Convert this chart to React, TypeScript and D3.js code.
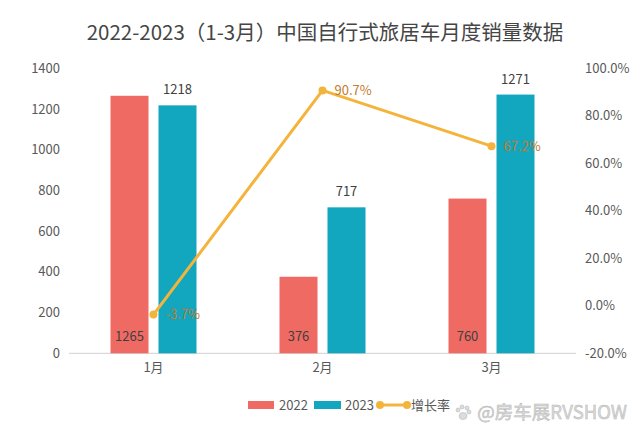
import React from "react";
import * as d3 from "d3";

const months = ["1月", "2月", "3月"];
const sales2022 = [1265, 376, 760];
const sales2023 = [1218, 717, 1271];
const growth = [-3.7, 90.7, 67.2];
const leftTicks = [0, 200, 400, 600, 800, 1000, 1200, 1400];
const rightTicks = [-20, 0, 20, 40, 60, 80, 100];

const W = 640, H = 440;
const M = { left: 69, right: 576, top: 68.3, bottom: 353.3 };
const RED = "#EF6A62";
const TEAL = "#12A6BF";
const LINE = "#F4B43C";
const FONT = "'Noto Sans CJK SC', 'Noto Sans', sans-serif";

export default function App() {
  const x = d3.scaleBand<string>().domain(months).range([M.left, M.right]).paddingInner(0).paddingOuter(0);
  const y = d3.scaleLinear().domain([0, 1400]).range([M.bottom, M.top]);
  const yr = d3.scaleLinear().domain([-20, 100]).range([M.bottom, M.top]);
  const barW = 38;
  const gap = 10;
  const cx = (m: string) => (x(m) as number) + x.bandwidth() / 2;
  const line = d3.line<number>().x((_, i) => cx(months[i])).y((d) => yr(d));

  return (
    <svg width={W} height={H} style={{ display: "block", position: "absolute", left: 0, top: 0 }} fontFamily={FONT}>
      <rect width={W} height={H} fill="#fff" />
      <text x={325} y={40} textAnchor="middle" fontSize={20.5} fill="#454545">
        2022-2023（1-3月）中国自行式旅居车月度销量数据
      </text>
      {leftTicks.map((t) => (
        <text key={"l" + t} x={60} y={y(t)} dy="0.35em" textAnchor="end" fontSize={13} fill="#595959">
          {t}
        </text>
      ))}
      {rightTicks.map((t) => (
        <text key={"r" + t} x={585} y={yr(t)} dy="0.35em" textAnchor="start" fontSize={13} fill="#595959">
          {t.toFixed(1) + "%"}
        </text>
      ))}
      <line x1={M.left} x2={M.right} y1={M.bottom} y2={M.bottom} stroke="#d0d0d0" strokeWidth={1} />
      {months.map((m, i) => (
        <g key={m}>
          <rect x={cx(m) - gap / 2 - barW} y={y(sales2022[i])} width={barW} height={M.bottom - y(sales2022[i])} fill={RED} />
          <rect x={cx(m) + gap / 2} y={y(sales2023[i])} width={barW} height={M.bottom - y(sales2023[i])} fill={TEAL} />
          <text x={cx(m) - gap / 2 - barW / 2} y={M.bottom - 12} textAnchor="middle" fontSize={13} fill="#404040">
            {sales2022[i]}
          </text>
          <text x={cx(m) + gap / 2 + barW / 2} y={y(sales2023[i]) - 11} textAnchor="middle" fontSize={13} fill="#404040">
            {sales2023[i]}
          </text>
          <text x={cx(m)} y={M.bottom + 19} textAnchor="middle" fontSize={13} fill="#595959">
            {m}
          </text>
        </g>
      ))}
      <path d={line(growth) as string} fill="none" stroke={LINE} strokeWidth={3} strokeLinejoin="round" />
      {growth.map((g, i) => (
        <g key={"g" + i}>
          <circle cx={cx(months[i])} cy={yr(g)} r={4} fill={LINE} />
          <text x={cx(months[i]) + 12} y={yr(g)} dy="0.35em" fontSize={13} fill="#C47A2E">
            {g.toFixed(1) + "%"}
          </text>
        </g>
      ))}
      <g fontSize={13} fill="#595959">
        <rect x={248} y={401} width={26} height={8} fill={RED} />
        <text x={279} y={405} dy="0.35em">2022</text>
        <rect x={314} y={401} width={27} height={8} fill={TEAL} />
        <text x={345} y={405} dy="0.35em">2023</text>
        <line x1={380} x2={407} y1={405} y2={405} stroke={LINE} strokeWidth={3} />
        <circle cx={380} cy={405} r={4} fill={LINE} />
        <circle cx={407} cy={405} r={4} fill={LINE} />
        <text x={411} y={405} dy="0.35em">增长率</text>
      </g>
      <g fill="#dcdcdc" stroke="#b8b8b8" strokeWidth={0.6}>
        <ellipse cx={463} cy={416} rx={4} ry={3.5} />
        <circle cx={458} cy={410} r={2} />
        <circle cx={462} cy={407} r={2} />
        <circle cx={467} cy={408} r={2} />
        <circle cx={469} cy={412} r={2} />
      </g>
      <text x={627} y={413} dy="0.35em" textAnchor="end" fontSize={18.5} fill="#dcdcdc" stroke="#b5b5b5" strokeWidth={0.5}>
        @房车展RVSHOW
      </text>
    </svg>
  );
}
